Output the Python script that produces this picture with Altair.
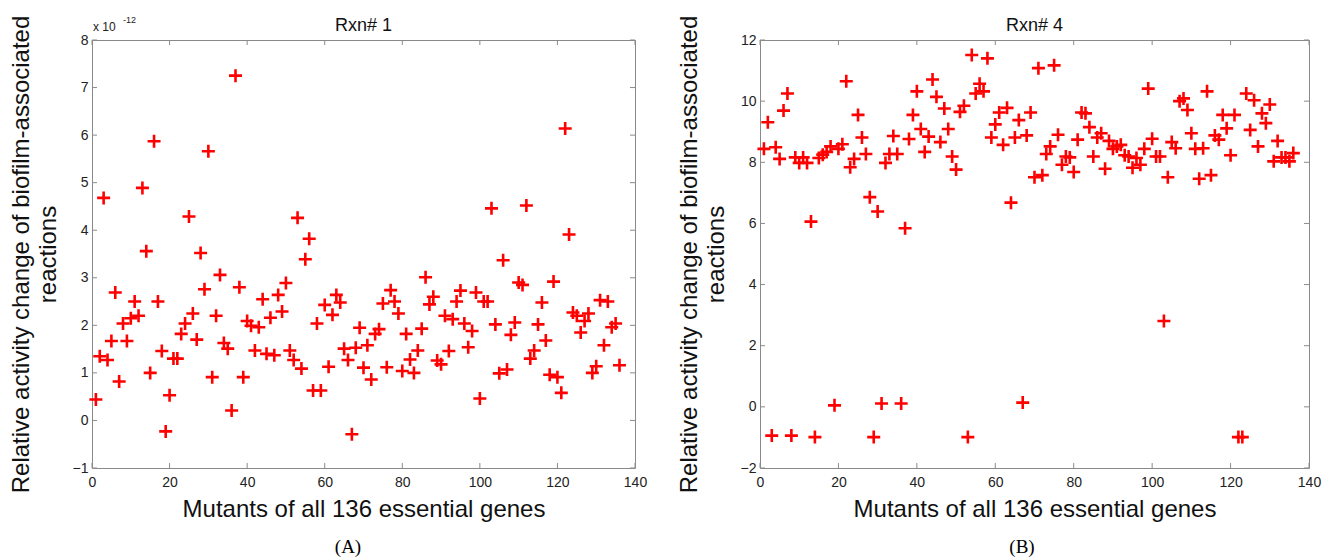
import altair as alt
import pandas as pd

# ---------------- data ----------------
mutants = list(range(1, 137))

rxn1 = [0.44, 1.35, 4.68, 1.27, 1.67, 2.69, 0.82, 2.04, 1.67, 2.15,
        2.50, 2.20, 4.89, 3.56, 1.00, 5.87, 2.50, 1.46, -0.23, 0.53,
        1.30, 1.30, 1.82, 2.04, 4.29, 2.25, 1.70, 3.52, 2.76, 5.66,
        0.91, 2.20, 3.06, 1.63, 1.51, 0.21, 7.25, 2.80, 0.91, 2.09,
        1.99, 1.47, 1.96, 2.55, 1.40, 2.16, 1.37, 2.64, 2.29, 2.89,
        1.47, 1.27, 4.26, 1.09, 3.39, 3.82, 0.63, 2.04, 0.63, 2.43,
        1.13, 2.22, 2.64, 2.48, 1.51, 1.27, -0.29, 1.53, 1.95, 1.11,
        1.58, 0.86, 1.82, 1.92, 2.46, 1.12, 2.74, 2.50, 2.25, 1.04,
        1.82, 1.28, 1.00, 1.47, 1.93, 3.01, 2.44, 2.60, 1.26, 1.18,
        2.20, 1.46, 2.13, 2.50, 2.73, 2.04, 1.54, 1.88, 2.69, 0.46,
        2.50, 2.50, 4.46, 2.02, 0.99, 3.37, 1.07, 1.80, 2.06, 2.90,
        2.85, 4.52, 1.30, 1.47, 2.02, 2.48, 1.68, 0.96, 2.92, 0.91,
        0.58, 6.14, 3.91, 2.27, 2.20, 1.85, 2.09, 2.25, 1.00, 1.14,
        2.53, 1.58, 2.50, 1.96, 2.04, 1.16]

rxn4 = [8.44, 9.31, -0.94, 8.49, 8.11, 9.69, 10.25, -0.94, 8.16, 7.98,
        8.16, 7.98, 6.06, -0.99, 8.14, 8.25, 8.34, 8.52, 0.05, 8.44,
        8.59, 10.65, 7.84, 8.11, 9.55, 8.81, 8.27, 6.86, -0.99, 6.39,
        0.11, 7.98, 8.27, 8.86, 8.27, 0.11, 5.84, 8.76, 9.55, 10.32,
        9.09, 8.34, 8.84, 10.71, 10.14, 8.66, 9.76, 9.09, 8.19, 7.76,
        9.65, 9.85, -0.99, 11.51, 10.25, 10.57, 10.32, 11.40, 8.81, 9.24,
        9.63, 8.57, 9.78, 6.68, 8.81, 9.38, 0.14, 8.88, 9.63, 7.51,
        11.08, 7.58, 8.27, 8.52, 11.17, 8.90, 7.92, 8.19, 8.16, 7.68,
        8.74, 9.63, 9.60, 9.15, 8.19, 8.81, 8.95, 7.79, 8.70, 8.44,
        8.52, 8.57, 8.23, 8.19, 7.82, 8.14, 7.92, 8.44, 10.41, 8.77,
        8.19, 8.19, 2.81, 7.51, 8.66, 8.46, 10.00, 10.09, 9.71, 8.95,
        8.44, 7.46, 8.46, 10.32, 7.58, 8.88, 8.74, 9.55, 9.11, 8.23,
        9.55, -0.99, -0.99, 10.25, 9.06, 10.03, 8.52, 9.60, 9.28, 9.89,
        8.03, 8.70, 8.16, 8.16, 8.03, 8.30]

x_ticks = [0, 20, 40, 60, 80, 100, 120, 140]
y1_ticks = [-1, 0, 1, 2, 3, 4, 5, 6, 7, 8]
y4_ticks = [-2, 0, 2, 4, 6, 8, 10, 12]

x_title = "Mutants of all 136 essential genes"
y_title = ["Relative activity change of biofilm-associated", "reactions"]

# ---------------- style ----------------
FONT = "Liberation Sans"
SERIF = "Liberation Serif"
BOX = "#8a8a8a"
RED = "#ff0000"
PLUS = "M-1,0L1,0M0,-1L0,1"
TICK = 5
H = 428


def text_layer(txt, x, y, **kw):
    return alt.Chart(pd.DataFrame({"t": [txt]})).mark_text(
        baseline="alphabetic", **kw
    ).encode(text="t:N", x=alt.value(x), y=alt.value(y))


def panel(values, ydom, yticks, W, title, tag, tag_dx, exponent=None):
    df = pd.DataFrame({"mutant": mutants, "value": values})
    xenc = alt.X("mutant:Q",
                 scale=alt.Scale(domain=[0, 140], nice=False, zero=False),
                 axis=alt.Axis(values=x_ticks, title=x_title, labelFlush=False,
                               labelOverlap=False, labelPadding=7, titlePadding=8))
    yenc = alt.Y("value:Q",
                 scale=alt.Scale(domain=ydom, nice=False, zero=False),
                 axis=alt.Axis(values=yticks, title=y_title, labelFlush=False,
                               labelOverlap=False, labelPadding=4, titlePadding=12))
    pts = alt.Chart(df).mark_point(shape=PLUS, filled=False, size=169,
                                   strokeWidth=2.6, color=RED, opacity=1).encode(x=xenc, y=yenc)

    xt = pd.DataFrame({"mutant": x_ticks})
    yt = pd.DataFrame({"value": yticks})
    rule = dict(color=BOX, strokeWidth=1)
    tx_top = alt.Chart(xt).mark_rule(**rule).encode(
        x="mutant:Q", y=alt.value(0), y2=alt.value(TICK))
    tx_bot = alt.Chart(xt).mark_rule(**rule).encode(
        x="mutant:Q", y=alt.value(H - TICK), y2=alt.value(H))
    ty_l = alt.Chart(yt).mark_rule(**rule).encode(
        y="value:Q", x=alt.value(0), x2=alt.value(TICK))
    ty_r = alt.Chart(yt).mark_rule(**rule).encode(
        y="value:Q", x=alt.value(W - TICK), x2=alt.value(W))

    title_txt = text_layer(title, W / 2, -9, font=FONT, fontSize=18,
                           align="center", color="#111111")
    tag_txt = text_layer(tag, tag_dx, 513, font=SERIF, fontSize=19,
                         align="center", color="black")

    layers = [tx_top, tx_bot, ty_l, ty_r, pts, title_txt, tag_txt]
    if exponent is not None:
        layers.append(text_layer(exponent[0], 1, -9, font=FONT, fontSize=12,
                                 align="left", color="#222222"))
        layers.append(text_layer(exponent[1], 31, -17, font=FONT, fontSize=9,
                                 align="left", color="#222222"))

    return alt.layer(*layers).properties(width=W, height=H)


left = panel(rxn1, [-1, 8], y1_ticks, 543, "Rxn# 1", "(A)", 256,
             exponent=("x 10", "-12"))
right = panel(rxn4, [-2, 12], y4_ticks, 549, "Rxn# 4", "(B)", 262)

chart = alt.hconcat(left, right, spacing=28, bounds="full").properties(
    padding={"left": 0, "top": 6, "right": 0, "bottom": 0},
    background="white",
).configure_view(
    stroke=BOX, strokeWidth=1
).configure_axis(
    domain=False, ticks=False, grid=False,
    labelFont=FONT, labelFontSize=14, labelColor="#222222",
    titleFont=FONT, titleFontSize=24, titleFontWeight="normal", titleColor="#111111",
    titleLineHeight=27,
)

chart.save("out.html", embed_options={"renderer": "svg", "actions": False})
